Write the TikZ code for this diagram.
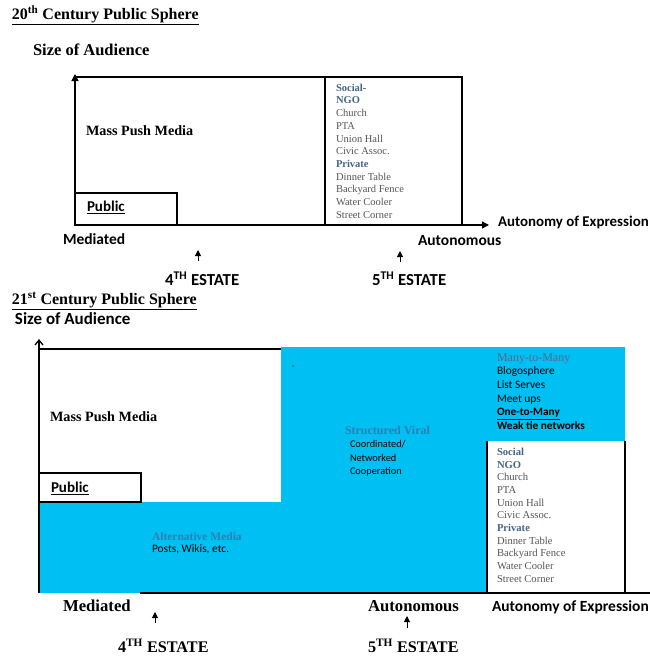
\documentclass[tikz,border=0pt]{standalone}
\usepackage{fontspec}
\setmainfont{Liberation Serif}
\newfontfamily\calib{Carlito}
\usetikzlibrary{arrows.meta}
\definecolor{skycyan}{RGB}{0,191,243}
\definecolor{headblue}{RGB}{70,100,135}
\definecolor{softblue}{RGB}{50,125,180}
\definecolor{mmblue}{RGB}{85,105,140}
\definecolor{bodygrey}{RGB}{85,85,85}
\tikzset{
  lbl/.style={anchor=mid west,inner sep=0pt,outer sep=0pt},
  serifb/.style={lbl,font=\fontsize{14.2}{16}\selectfont\bfseries},
  sansb/.style={lbl,font=\fontsize{15.5}{17}\selectfont\calib\bfseries},
  axisline/.style={line width=1.3pt,black},
  boxline/.style={line width=1.2pt,black},
  uparrow/.style={line width=1pt,-{Triangle[length=6pt,width=6pt]}},
}
\begin{document}
\begin{tikzpicture}[x=1pt,y=-1pt]
\useasboundingbox (0,0) rectangle (650,662);
% ================= 20th century =================
\node[lbl,font=\fontsize{16}{18}\selectfont\bfseries] (t1) at (12,17) {\underline{20\textsuperscript{th} Century Public Sphere}};
\node[lbl,font=\fontsize{16.5}{18}\selectfont\bfseries] (sa1) at (33,53) {Size of Audience};
\coordinate (o1) at (75,225);
\coordinate (ytop1) at (75,74);
\coordinate (xend1) at (489,225);
\draw[boxline] (75,77) -- (462,77) -- (462,225);
\draw[boxline] (75,193) rectangle (177,225);
\draw[boxline] (325,77) -- (325,225);
\draw[axisline,-{Triangle[length=7pt,width=7pt]}] (o1) -- (ytop1);
\draw[axisline,-{Triangle[length=7pt,width=7pt]}] (o1) -- (xend1);
\node[serifb] (mpm1) at (86,133) {Mass Push Media};
\node[lbl,font=\fontsize{15}{17}\selectfont\calib\bfseries] (pub1) at (87,209) {\underline{Public}};
\foreach \t/\c/\w [count=\i] in {Social-/headblue/b,NGO/headblue/b,Church/bodygrey/m,PTA/bodygrey/m,Union Hall/bodygrey/m,Civic Assoc./bodygrey/m,Private/headblue/b,Dinner Table/bodygrey/m,Backyard Fence/bodygrey/m,Water Cooler/bodygrey/m,Street Corner/bodygrey/m}
  \node[lbl,text=\c,font=\fontsize{10.5}{12}\selectfont\fontseries{\w}\selectfont] (sl\i) at (336,{89+(\i-1)*12.7}) {\t};
\node[sansb,font=\fontsize{14.9}{17}\selectfont\calib\bfseries] (aoe1) at (498,224) {Autonomy of Expression};
\node[sansb] (med1) at (63,242) {Mediated};
\node[sansb] (aut1) at (418,243) {Autonomous};
\coordinate (a4s) at (198,261);
\coordinate (a4e) at (198,250);
\draw[uparrow] (a4s) -- (a4e);
\coordinate (a5s) at (400,262);
\coordinate (a5e) at (400,251);
\draw[uparrow] (a5s) -- (a5e);
\node[sansb,font=\fontsize{16.8}{18}\selectfont\calib\bfseries] (e4a) at (165,283) {4\textsuperscript{TH} ESTATE};
\node[sansb,font=\fontsize{16.8}{18}\selectfont\calib\bfseries] (e5a) at (372,283) {5\textsuperscript{TH} ESTATE};
% ================= 21st century =================
\node[lbl,font=\fontsize{16}{18}\selectfont\bfseries] (t2) at (12,302) {\underline{21\textsuperscript{st} Century Public Sphere}};
\node[lbl,font=\fontsize{17}{19}\selectfont\calib\bfseries] (sa2) at (15,322) {Size of Audience};
\fill[skycyan] (39,502) -- (281,502) -- (281,347) -- (625,347) -- (625,441) -- (487,441) -- (487,593) -- (39,593) -- cycle;
\draw[boxline] (39,349) -- (281,349);
\draw[boxline] (39,473) rectangle (141,502);
\draw[boxline] (487,441) -- (487,593);
\draw[boxline] (625,441) -- (625,593);
\coordinate (o2) at (39,593);
\coordinate (ytop2) at (39,339);
\coordinate (xs2) at (140,593);
\coordinate (xend2) at (652,593);
\draw[axisline,-{Straight Barb[length=5pt,width=8pt]}] (o2) -- (ytop2);
\draw[axisline] (xs2) -- (xend2);
\fill[black!70] (293,366) circle (0.8);
\node[serifb] (mpm2) at (50,419) {Mass Push Media};
\node[lbl,font=\fontsize{15}{17}\selectfont\calib\bfseries] (pub2) at (51,490) {\underline{Public}};
\node[lbl,text=softblue,font=\fontsize{11.5}{14}\selectfont\bfseries] (alt) at (152,538) {Alternative Media};
\node[lbl,font=\fontsize{11.4}{13}\selectfont\calib] (posts) at (152,550) {Posts, Wikis, etc.};
\node[lbl,text=softblue,font=\fontsize{12}{14}\selectfont\bfseries] (sv) at (345,432) {Structured Viral};
\node[lbl,font=\fontsize{10.3}{12}\selectfont\calib] (cv1) at (350,445) {Coordinated/};
\node[lbl,font=\fontsize{10.3}{12}\selectfont\calib] (cv2) at (350,459) {Networked};
\node[lbl,font=\fontsize{10.3}{12}\selectfont\calib] (cv3) at (350,472) {Cooperation};
\node[lbl,text=mmblue,font=\fontsize{12}{14}\selectfont] (mm0) at (497,359) {Many-to-Many};
\node[lbl,font=\fontsize{11.4}{13}\selectfont\calib] (mm1) at (497,372.6) {Blogosphere};
\node[lbl,font=\fontsize{11.4}{13}\selectfont\calib] (mm2) at (497,386.2) {List Serves};
\node[lbl,font=\fontsize{11.4}{13}\selectfont\calib] (mm3) at (497,399.8) {Meet ups};
\node[lbl,font=\fontsize{11.3}{13}\selectfont\calib\bfseries] (mm4) at (497,413.4) {\underline{One-to-Many}};
\node[lbl,font=\fontsize{11.3}{13}\selectfont\calib\bfseries] (mm5) at (497,427) {Weak tie networks};
\foreach \t/\c/\w [count=\i] in {Social/headblue/b,NGO/headblue/b,Church/bodygrey/m,PTA/bodygrey/m,Union Hall/bodygrey/m,Civic Assoc./bodygrey/m,Private/headblue/b,Dinner Table/bodygrey/m,Backyard Fence/bodygrey/m,Water Cooler/bodygrey/m,Street Corner/bodygrey/m}
  \node[lbl,text=\c,font=\fontsize{10.6}{12}\selectfont\fontseries{\w}\selectfont] (sm\i) at (497,{453+(\i-1)*12.7}) {\t};
\node[serifb,font=\fontsize{16.7}{18}\selectfont\bfseries] (med2) at (63,609) {Mediated};
\node[serifb,font=\fontsize{16.7}{18}\selectfont\bfseries] (aut2) at (368,609) {Autonomous};
\node[sansb] (aoe2) at (492,609) {Autonomy of Expression};
\coordinate (b4s) at (155,623);
\coordinate (b4e) at (155,612);
\draw[uparrow] (b4s) -- (b4e);
\coordinate (b5s) at (407,628);
\coordinate (b5e) at (407,616);
\draw[uparrow] (b5s) -- (b5e);
\node[serifb,font=\fontsize{16.2}{18}\selectfont\bfseries] (e4b) at (118,650) {4\textsuperscript{TH} ESTATE};
\node[serifb,font=\fontsize{16.2}{18}\selectfont\bfseries] (e5b) at (368,650) {5\textsuperscript{TH} ESTATE};
\end{tikzpicture}
\end{document}
